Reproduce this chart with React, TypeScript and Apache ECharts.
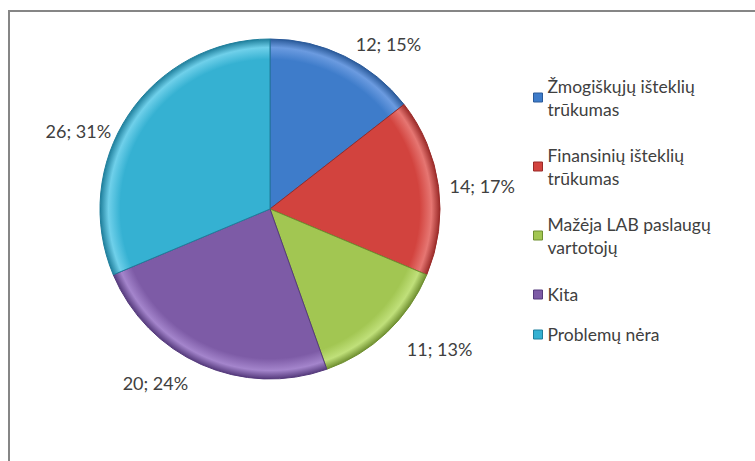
import React, { useEffect, useRef } from "react";
import * as echarts from "echarts";

const categories = [
  "Žmogiškųjų išteklių\ntrūkumas",
  "Finansinių išteklių\ntrūkumas",
  "Mažėja LAB paslaugų\nvartotojų",
  "Kita",
  "Problemų nėra",
];
const values = [12, 14, 11, 20, 26];
const percents = [15, 17, 13, 24, 31];
const baseColors = ["#3e7cca", "#d2433e", "#a2c652", "#7d5ba6", "#35b1d2"];
const edgeColors = ["#2a5a9a", "#9a2a28", "#6f8f30", "#553a7c", "#1f7f9c"];
const lightColors = ["#6b9be0", "#e67672", "#c0e07a", "#a485cc", "#6fd0ea"];

const FONT = "Lato, 'Open Sans', sans-serif";
const L = 23;

export default function App() {
  const ref = useRef<HTMLDivElement>(null);
  useEffect(() => {
    if (!ref.current) return;
    const chart = echarts.init(ref.current, null, { renderer: "svg" });
    const cx = 270;
    const cy = 209;
    const r = 170;
    const paddings = [
      [L, 0, 0, 0],
      [L, 0, 0, 0],
      [L, 0, 0, 0],
      [13, 0, 13, 0],
      [4, 0, 4, 0],
    ];
    const lineLens = [14, 6, 22, 20, 10];
    chart.setOption({
      animation: false,
      backgroundColor: "#ffffff",
      graphic: [
        {
          type: "rect",
          shape: { x: 9, y: 11, width: 800, height: 500 },
          style: { fill: "none", stroke: "#868686", lineWidth: 2 },
          silent: true,
        },
      ],
      legend: {
        orient: "vertical",
        left: 533,
        top: 63,
        padding: 0,
        itemGap: 0,
        itemWidth: 9,
        itemHeight: 9,
        itemTextGap: 4,
        icon: "rect",
        textStyle: {
          fontFamily: FONT,
          fontSize: 17.5,
          color: "#404040",
          lineHeight: L,
        },
        data: categories.map((name, i) => ({
          name,
          itemStyle: { color: baseColors[i], borderColor: edgeColors[i], borderWidth: 1 },
          textStyle: { padding: paddings[i] },
        })),
      },
      series: [
        {
          type: "pie",
          center: [cx, cy],
          radius: r,
          startAngle: 90,
          clockwise: true,
          avoidLabelOverlap: false,
          label: {
            show: true,
            position: "outside",
            fontFamily: FONT,
            fontSize: 18,
            color: "#404040",
            formatter: (p: any) => `${values[p.dataIndex]}; ${percents[p.dataIndex]}%`,
          },
          labelLine: { show: false, length: 14, length2: 0 },
          labelLayout: (p: any) => (p.dataIndex === 4 ? { dx: -4, dy: 22 } : {}),
          data: categories.map((name, i) => ({
            name,
            value: values[i],
            labelLine: { show: false, length: lineLens[i], length2: 0 },
            itemStyle: {
              color: {
                type: "radial",
                x: cx,
                y: cy,
                r: r,
                global: true,
                colorStops: [
                  { offset: 0, color: baseColors[i] },
                  { offset: 0.88, color: baseColors[i] },
                  { offset: 0.95, color: lightColors[i] },
                  { offset: 1, color: edgeColors[i] },
                ],
              },
              borderColor: edgeColors[i],
              borderWidth: 1,
            },
          })),
        },
      ],
    });
    return () => chart.dispose();
  }, []);
  return (
    <div
      ref={ref}
      style={{ position: "fixed", left: 0, top: 0, width: 755, height: 461 }}
    />
  );
}
